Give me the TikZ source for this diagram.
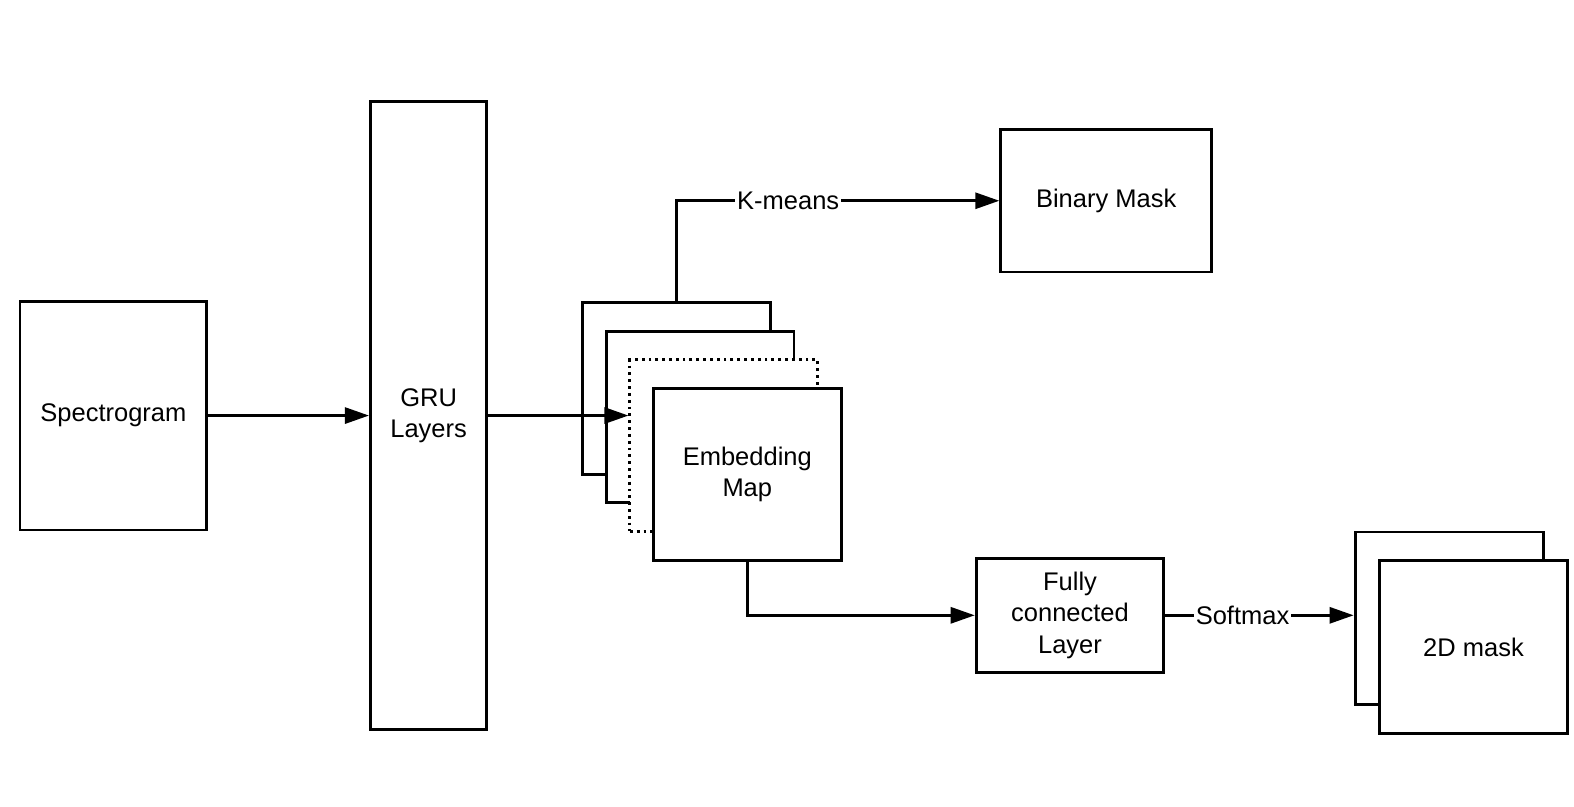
\documentclass[tikz,border=0pt]{standalone}
\usepackage{fontspec}
\setmainfont{Liberation Sans}
\usetikzlibrary{arrows.meta}
\tikzset{
	block/.style={draw, rectangle, line width=1.4pt, fill=white, align=center, text centered},
	flow/.style={line width=1.4pt, -{Triangle[length=12pt,width=8pt]}},
	tag/.style={fill=white, inner sep=1pt}
}
\begin{document}
\begin{tikzpicture}[x=0.5pt, y=-0.5pt, font=\fontsize{12.7}{15.5}\selectfont]
	\useasboundingbox (0,0) rectangle (1568.1,803);
	
	%Input and recurrent layers
	\node (spec) at (113,414) [block, minimum width=93pt, minimum height=114pt]{Spectrogram};
	\node (gru) at (427,414) [block, minimum width=58pt, minimum height=313pt]{GRU\\Layers};
	
	%Stack of embedding maps
	\node (emb1) at (674,387) [block, minimum width=93.5pt, minimum height=85.5pt]{};
	\node (emb2) at (697.5,415.5) [block, minimum width=93.5pt, minimum height=85.5pt]{};
	\node (emb3) at (721,444) [block, dotted, minimum width=93.5pt, minimum height=85.5pt]{};
	\node (emb4) at (744.5,472.5) [block, minimum width=93.5pt, minimum height=85.5pt]{Embedding\\Map};
	
	%Outputs
	\node (binary) at (1102,200) [block, minimum width=105pt, minimum height=71pt]{Binary Mask};
	\node (fc) at (1066,613) [block, minimum width=93.5pt, minimum height=57pt]{Fully\\connected\\Layer};
	\node (mask1) at (1444,616) [block, minimum width=94pt, minimum height=86pt]{};
	\node (mask2) at (1468,644.5) [block, minimum width=94pt, minimum height=86pt]{2D mask};
	
	%Connections
	\draw[flow] (spec) -- (gru);
	\draw[flow] (gru.east) -- (gru.east -| emb3.west);
	\draw[flow] (emb1.north) |- node[tag, pos=0.673]{K-means} (binary.west);
	\draw[flow] (emb4.south) |- (fc.west);
	\draw[flow] (fc.east) -- node[tag, pos=0.41]{Softmax} (fc.east -| mask1.west);
	
\end{tikzpicture}
\end{document}
